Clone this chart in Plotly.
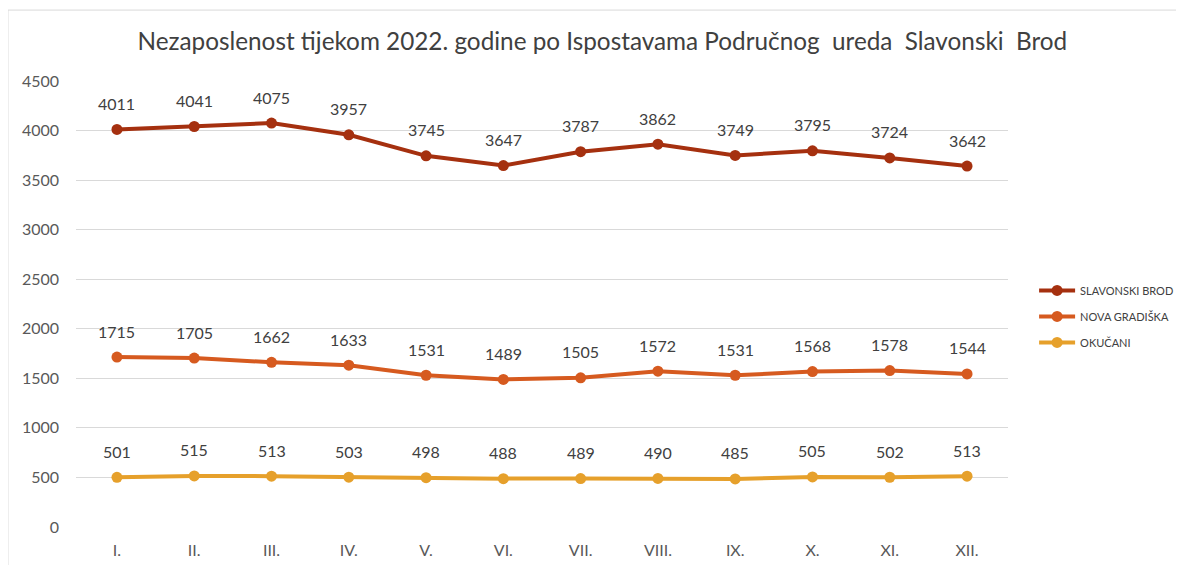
import plotly.graph_objects as go

FONT = "Lato, Open Sans, sans-serif"

months = ["I.", "II.", "III.", "IV.", "V.", "VI.", "VII.", "VIII.", "IX.", "X.", "XI.", "XII."]
slavonski_brod = [4011, 4041, 4075, 3957, 3745, 3647, 3787, 3862, 3749, 3795, 3724, 3642]
nova_gradiska = [1715, 1705, 1662, 1633, 1531, 1489, 1505, 1572, 1531, 1568, 1578, 1544]
okucani = [501, 515, 513, 503, 498, 488, 489, 490, 485, 505, 502, 513]

series = [
    ("SLAVONSKI BROD", slavonski_brod, "#a5300f"),
    ("NOVA GRADIŠKA", nova_gradiska, "#d65a1f"),
    ("OKUČANI", okucani, "#e6a02b"),
]

fig = go.Figure()
annotations = []
for name, vals, color in series:
    fig.add_trace(go.Scatter(
        x=months, y=vals, name=name, legendgroup=name,
        mode="lines+markers",
        line=dict(color=color, width=4),
        marker=dict(size=11, color=color),
    ))
    for m, v in zip(months, vals):
        annotations.append(dict(
            x=m, y=v, text=str(v), showarrow=False, yshift=26,
            font=dict(size=16, color="#404040", family=FONT),
        ))

fig.update_layout(
    width=1184, height=565,
    title=dict(
        text="Nezaposlenost tijekom 2022. godine po Ispostavama Područnog  ureda  Slavonski  Brod",
        x=0.502, xanchor="center", y=0.94, yref="container", yanchor="middle",
        font=dict(size=24.3, color="#404040", family=FONT),
    ),
    margin=dict(l=68, r=184, t=73, b=46, autoexpand=False),
    paper_bgcolor="white",
    plot_bgcolor="white",
    font=dict(family=FONT, color="#595959"),
    xaxis=dict(
        range=[-0.53, 11.53], showgrid=False, showline=False, zeroline=False,
        tickfont=dict(size=16), ticks="", ticklabelstandoff=12, automargin=False,
    ),
    yaxis=dict(
        range=[0, 4500], dtick=500, gridcolor="#d9d9d9", gridwidth=1,
        showline=False, zeroline=False, tickfont=dict(size=16),
        ticklabelstandoff=16, automargin=False,
    ),
    legend=dict(
        x=1.028, y=0.563, xanchor="left", yanchor="top",
        font=dict(size=11, color="#404040"), tracegroupgap=7,
        itemwidth=36,
    ),
    annotations=annotations,
    shapes=[dict(
        type="rect", xref="paper", yref="paper",
        x0=-0.073, x1=1.182, y0=-0.2, y1=1.159,
        line=dict(color="#d9d9d9", width=1),
    )],
)

fig.write_html("out.html")
